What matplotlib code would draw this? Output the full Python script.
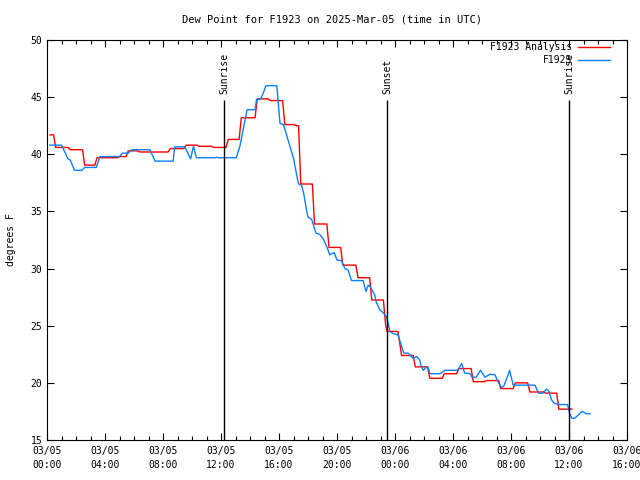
import numpy as np
import matplotlib
matplotlib.use("Agg")
from matplotlib import pyplot as plt
from matplotlib.ticker import MultipleLocator

# hours since 2025-03-05 00:00 UTC
title = "Dew Point for F1923 on 2025-Mar-05 (time in UTC)"

# analysis series (value holds from each time until the next)
ana_t = [0.2, 0.6, 1.6, 2.6, 3.45, 5.0, 5.6, 6.4, 8.5, 9.6, 10.5, 11.5, 12.5,
         13.4, 14.5, 15.4, 16.4, 17.2, 17.5, 18.45, 19.45, 20.4, 21.45, 22.4,
         23.35, 23.45, 24.35, 24.45, 25.4, 26.4, 27.4, 28.4, 29.4, 30.3, 31.3,
         32.3, 33.3, 34.4, 35.3, 36.2]
ana_v = [41.7, 40.6, 40.4, 39.05, 39.7, 39.8, 40.3, 40.2, 40.5, 40.8, 40.7,
         40.6, 41.3, 43.2, 44.85, 44.7, 42.6, 42.5, 37.4, 33.9, 31.85, 30.3,
         29.2, 27.25, 25.1, 24.5, 23.3, 22.4, 21.4, 20.4, 20.8, 21.25, 20.1,
         20.2, 19.5, 20.0, 19.2, 19.1, 17.7, 17.7]

# observations
obs_t = [0.2, 1.0, 1.45, 1.6, 1.9, 2.4, 2.6, 3.4, 3.65, 5.0, 5.2, 5.6, 5.85,
         7.1, 7.45, 8.7, 8.8, 9.5, 9.9, 10.1, 10.3, 11.6, 11.7, 11.8, 13.05,
         13.3, 13.55, 13.8, 14.35, 14.45, 14.7, 14.9, 15.1, 15.85, 15.95,
         16.07, 16.3, 16.5, 16.75, 17.0, 17.2, 17.35, 17.55, 17.7, 17.9, 18.0,
         18.25, 18.4, 18.55, 18.8, 19.05, 19.3, 19.5, 19.65, 19.8, 20.0, 20.3,
         20.55, 20.75, 21.0, 21.8, 22.0, 22.15, 22.3, 22.6, 22.7, 22.95, 23.2,
         23.4, 23.55, 23.65, 23.9, 24.2, 24.4, 24.6, 24.9, 25.25, 25.5, 25.7,
         25.8, 25.95, 26.2, 26.3, 26.4, 27.1, 27.45, 28.25, 28.4, 28.6, 28.8,
         29.2, 29.3, 29.6, 29.9, 30.2, 30.55, 30.9, 31.1, 31.35, 31.5, 31.8,
         31.9, 32.15, 33.65, 33.9, 34.2, 34.45, 34.6, 34.8, 35.0, 35.4, 35.9,
         36.05, 36.2, 36.4, 36.9, 37.2, 37.45]
obs_v = [40.8, 40.8, 39.6, 39.5, 38.6, 38.6, 38.85, 38.85, 39.8, 39.8, 40.1,
         40.1, 40.4, 40.4, 39.4, 39.4, 40.65, 40.65, 39.6, 40.7, 39.7, 39.7,
         39.75, 39.7, 39.7, 40.7, 42.3, 43.9, 43.9, 44.8, 44.8, 45.3, 46.0,
         46.0, 44.5, 42.7, 42.6, 41.8, 40.7, 39.65, 38.3, 37.4, 37.3, 36.6,
         35.1, 34.5, 34.3, 33.7, 33.1, 33.0, 32.6, 31.9, 31.2, 31.3, 31.4,
         30.75, 30.7, 30.0, 29.9, 28.95, 28.95, 28.0, 28.55, 28.4, 27.7, 27.1,
         26.4, 26.1, 25.8, 25.1, 24.5, 24.3, 24.2, 23.45, 22.6, 22.6, 22.15,
         22.3, 22.0, 21.5, 21.1, 21.4, 21.3, 20.8, 20.8, 21.1, 21.1, 21.25,
         21.7, 20.85, 20.8, 20.5, 20.5, 21.1, 20.5, 20.75, 20.7, 20.1, 19.6,
         19.7, 20.7, 21.1, 19.8, 19.8, 19.1, 19.1, 19.45, 19.3, 18.5, 18.2,
         18.1, 18.1, 17.3, 16.9, 16.9, 17.5, 17.3, 17.3]

sun_t = [12.23, 23.47, 36.02]
sun_lbl = ["Sunrise", "Sunset", "Sunrise"]

tick_hours = list(range(0, 41, 4))
tick_lbls = ["03/05\n00:00", "03/05\n04:00", "03/05\n08:00", "03/05\n12:00",
             "03/05\n16:00", "03/05\n20:00", "03/06\n00:00", "03/06\n04:00",
             "03/06\n08:00", "03/06\n12:00", "03/06\n16:00"]

plt.rcParams['font.family'] = ['DejaVu Sans Mono']
fs = 7

# hold each analysis value, then ramp briefly into the next one
ramp = 0.15
red_x, red_y = [], []
for i in range(len(ana_t)):
    red_x.append(ana_t[i])
    red_y.append(ana_v[i])
    if i + 1 < len(ana_t) and ana_t[i + 1] - ana_t[i] > ramp:
        red_x.append(ana_t[i + 1] - ramp)
        red_y.append(ana_v[i])

fig = plt.figure(figsize=(6.4, 4.8), dpi=100)
ax = fig.add_axes([47/640, 40/480, 580/640, 400/480])

ax.plot(red_x, red_y, color='#ff0000', lw=1.0, label='F1923 Analysis')
ax.plot(obs_t, obs_v, color='#0a80ff', lw=1.0, label='F1923')

for t, s in zip(sun_t, sun_lbl):
    ax.vlines(t, 15, 44.75, color='black', lw=1.0)
    ax.text(t, 45.3, s, rotation=90, ha='center', va='bottom', fontsize=fs)

ax.set_xlim(0, 40)
ax.set_ylim(15, 50)
ax.set_xticks(tick_hours)
ax.set_xticklabels(tick_lbls, fontsize=fs, linespacing=1.6)
ax.xaxis.set_minor_locator(MultipleLocator(1))
ax.set_yticks(range(15, 51, 5))
ax.tick_params(axis='y', labelsize=fs)
ax.tick_params(which='both', direction='in', top=True, right=True)
ax.tick_params(which='major', length=5, width=0.8)
ax.tick_params(which='minor', length=3, width=0.8)
ax.tick_params(axis='x', pad=4)
for sp in ax.spines.values():
    sp.set_linewidth(0.8)

ax.set_ylabel('degrees F', fontsize=fs, labelpad=10)
fig.text(332/640, 1 - 19/480, title, ha='center', va='center', fontsize=fs + 0.5)

ax.legend(loc='upper right', bbox_to_anchor=((610-47)/580, (440-42)/400),
          frameon=False, markerfirst=False, fontsize=fs, handlelength=3.3,
          borderpad=0, borderaxespad=0, labelspacing=0.3, handletextpad=0.6)

fig.savefig('out.png', dpi=100)
